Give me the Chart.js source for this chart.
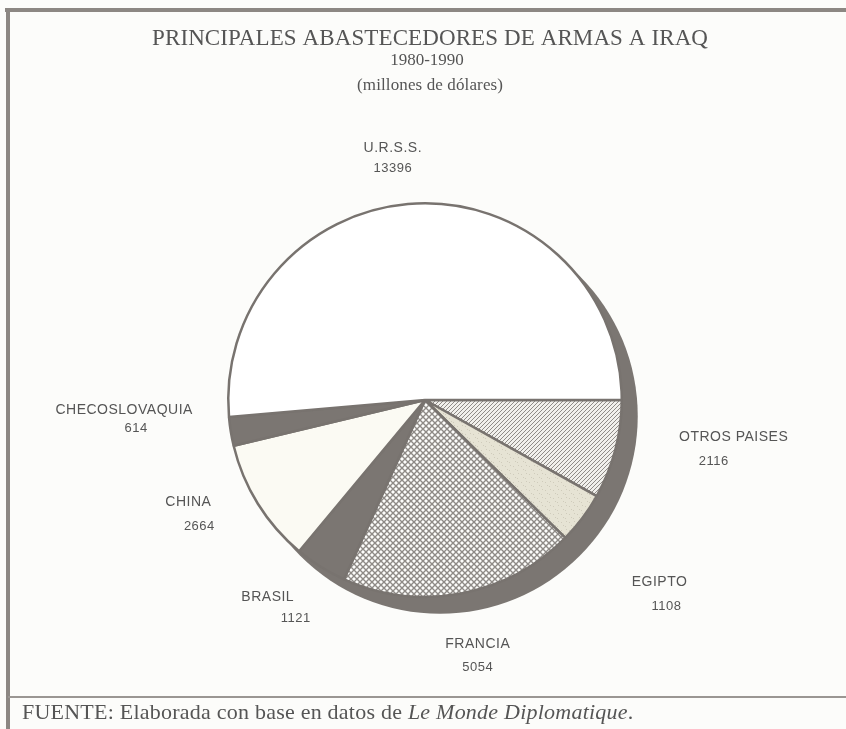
<!DOCTYPE html>
<html>
<head>
<meta charset="utf-8">
<script src="https://cdn.jsdelivr.net/npm/chart.js@4.4.1/dist/chart.umd.min.js"></script>
<style>
  html, body { margin: 0; padding: 0; }
  body { width: 846px; height: 729px; background: #fcfcfa; position: relative; overflow: hidden; }
  #frame-top { position: absolute; left: 5px; top: 8px; width: 841px; height: 4px; background: #8c8783; }
  #frame-left { position: absolute; left: 6px; top: 8px; width: 4px; height: 721px; background: #8c8783; }
  #frame-foot { position: absolute; left: 8px; top: 696px; width: 838px; height: 2px; background: #9a9692; }
  #fuente { position: absolute; left: 22px; top: 699px; font: 22px "Liberation Serif", serif; color: #555; white-space: nowrap; }
  #chart { position: absolute; left: 0; top: 0; }
</style>
</head>
<body>
<div id="frame-top"></div>
<div id="frame-left"></div>
<div id="frame-foot"></div>
<canvas id="chart" width="846" height="729"></canvas>
<div id="fuente">FUENTE: Elaborada con base en datos de <i>Le Monde Diplomatique</i>.</div>
<script>
// datos (millones de dólares), en el orden del gráfico a partir de las 3 en punto
const paises = ["OTROS PAISES", "EGIPTO", "FRANCIA", "BRASIL", "CHINA", "CHECOSLOVAQUIA", "U.R.S.S."];
const montos = [2116, 1108, 5054, 1121, 2664, 614, 13396];
const titulo = "PRINCIPALES ABASTECEDORES DE ARMAS A IRAQ";
const subtitulo = ["1980-1990", "(millones de dólares)"];

// dónde va cada rótulo respecto a su porción (giro en grados, radio relativo, desplazamiento del número)
const rotulos = [
  { giro: -7.8, k: 1.58, dx: -20, dy: 25 },
  { giro: 1.0, k: 1.51, dx: 7, dy: 24 },
  { giro: -1.6, k: 1.27, dx: 0, dy: 23 },
  { giro: 6.6, k: 1.28, dx: 28, dy: 22 },
  { giro: 8.5, k: 1.31, dx: 11, dy: 24 },
  { giro: 7.2, k: 1.53, dx: 12, dy: 18 },
  { giro: -4.8, k: 1.29, dx: 0, dy: 20 }
];

const gris = "#7b7672";

// tramas
function trama(size, dibujar) {
  const c = document.createElement("canvas");
  c.width = size;
  c.height = size;
  dibujar(c.getContext("2d"), size);
  return c.getContext("2d").createPattern(c, "repeat");
}

const rayado = trama(4, (g, s) => {
  g.fillStyle = "#f1f0ec";
  g.fillRect(0, 0, s, s);
  g.strokeStyle = "#8f8b87";
  g.lineWidth = 1;
  g.beginPath();
  g.moveTo(0, s);
  g.lineTo(s, 0);
  g.moveTo(-1, 1);
  g.lineTo(1, -1);
  g.moveTo(s - 1, s + 1);
  g.lineTo(s + 1, s - 1);
  g.stroke();
});

const cuadriculado = trama(6, (g, s) => {
  g.fillStyle = "#fdfdfb";
  g.fillRect(0, 0, s, s);
  g.strokeStyle = "#8e8a86";
  g.lineWidth = 1.4;
  g.beginPath();
  g.moveTo(0, 0); g.lineTo(s, s);
  g.moveTo(s, 0); g.lineTo(0, s);
  g.stroke();
});

const punteado = trama(8, (g, s) => {
  g.fillStyle = "#e6e3d4";
  g.fillRect(0, 0, s, s);
  g.fillStyle = "#cfcbbb";
  g.fillRect(1, 2, 1, 1);
  g.fillRect(5, 6, 1, 1);
  g.fillRect(6, 1, 1, 1);
  g.fillRect(3, 5, 1, 1);
});

const rellenos = [rayado, punteado, cuadriculado, gris, "#fbfaf3", gris, "#ffffff"];

// texto centrado y estirado hasta un ancho dado
function textoAncho(ctx, texto, x, y, ancho) {
  ctx.letterSpacing = "0px";
  const w = ctx.measureText(texto).width;
  const extra = Math.max(0, (ancho - w) / texto.length);
  ctx.letterSpacing = extra + "px";
  ctx.fillText(texto, x + extra / 2, y);
}

// títulos
const titulos = {
  id: "titulos",
  afterDraw(chart) {
    const ctx = chart.ctx;
    const cx = 430;
    ctx.save();
    ctx.fillStyle = "#555";
    ctx.textAlign = "center";
    ctx.textBaseline = "middle";
    ctx.font = "23px 'Liberation Serif', serif";
    textoAncho(ctx, titulo, cx, 39, 556);
    ctx.font = "17px 'Liberation Serif', serif";
    textoAncho(ctx, subtitulo[0], cx - 3, 61, 62);
    textoAncho(ctx, subtitulo[1], cx, 86, 146);
    ctx.restore();
  }
};

// sombra desplazada detrás del círculo
const sombra = {
  id: "sombra",
  beforeDatasetsDraw(chart) {
    const arc = chart.getDatasetMeta(0).data[0];
    if (!arc) return;
    const ctx = chart.ctx;
    ctx.save();
    ctx.fillStyle = gris;
    ctx.beginPath();
    ctx.arc(arc.x + 15, arc.y + 16, arc.outerRadius + 1, 0, Math.PI * 2);
    ctx.fill();
    ctx.restore();
  }
};

// nombres y cifras alrededor del círculo
const etiquetas = {
  id: "etiquetas",
  afterDatasetsDraw(chart) {
    const ctx = chart.ctx;
    const arcs = chart.getDatasetMeta(0).data;
    ctx.save();
    ctx.fillStyle = "#555";
    ctx.textAlign = "center";
    ctx.textBaseline = "middle";
    arcs.forEach((arc, i) => {
      const r = rotulos[i];
      const a = (arc.startAngle + arc.endAngle) / 2 + r.giro * Math.PI / 180;
      const x = arc.x + Math.cos(a) * arc.outerRadius * r.k;
      const y = arc.y + Math.sin(a) * arc.outerRadius * r.k;
      ctx.letterSpacing = "0.5px";
      ctx.font = "14px 'Liberation Sans', Arial, sans-serif";
      ctx.fillText(paises[i], x, y);
      ctx.font = "13px 'Liberation Sans', Arial, sans-serif";
      ctx.fillText(String(montos[i]), x + r.dx, y + r.dy);
    });
    ctx.restore();
  }
};

new Chart(document.querySelector("#chart"), {
  type: "pie",
  data: {
    labels: paises,
    datasets: [{
      data: montos,
      backgroundColor: rellenos,
      borderColor: "#78736f",
      borderWidth: 2.5
    }]
  },
  options: {
    responsive: false,
    animation: false,
    rotation: 90,
    layout: {
      padding: { left: 227, right: 223, top: 202, bottom: 131 }
    },
    plugins: {
      legend: { display: false },
      tooltip: { enabled: false },
      title: { display: false }
    }
  },
  plugins: [sombra, etiquetas, titulos]
});

// estirar la nota de fuente hasta su ancho
const fuente = document.querySelector("#fuente");
const n = fuente.textContent.length;
fuente.style.letterSpacing = Math.max(0, (612 - fuente.offsetWidth) / n) + "px";
</script>
</body>
</html>
